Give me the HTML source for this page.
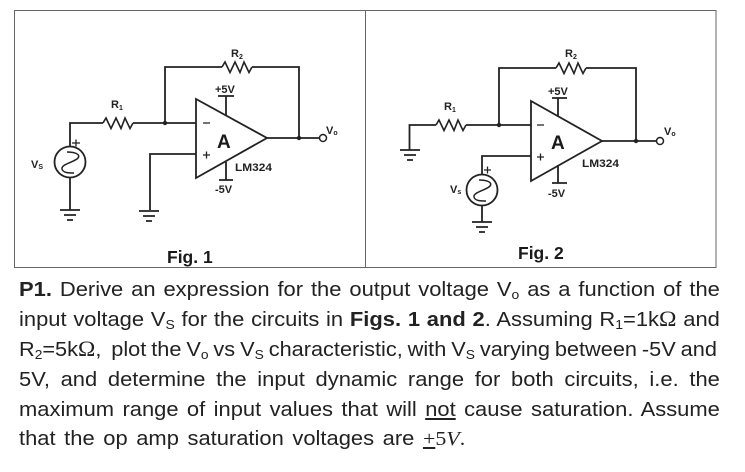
<!DOCTYPE html>
<html><head><meta charset="utf-8"><style>
html,body{margin:0;padding:0;background:#fff;width:745px;height:472px;overflow:hidden}
svg{display:block;position:absolute;left:0;top:0;filter:blur(.25px)}
text{font-family:"Liberation Sans",sans-serif;fill:#1a1a1a}
.l{font-weight:bold;font-size:11px;fill:#222}
.w{fill:none;stroke:#222;stroke-width:1.8}
.f{font-size:17.5px;font-weight:bold}
.p{position:absolute;left:19px;width:655px;height:30px;line-height:30px;font-family:"Liberation Sans",sans-serif;font-size:20.5px;color:#222;transform:scaleX(1.07);transform-origin:0 0;text-align:justify;text-align-last:justify;filter:blur(.2px)}
.p sub{font-size:13px;vertical-align:baseline;position:relative;top:3px;line-height:0}
.s{font-family:"Liberation Serif",serif}
.o{font-family:"Liberation Serif",serif;font-size:22px;line-height:0}
</style></head><body>
<svg width="745" height="472" viewBox="0 0 745 472" xmlns="http://www.w3.org/2000/svg">
<defs>
<g id="gnd"><path d="M-10 0H10M-6 5H6M-3 10H3" fill="none" stroke="#222" stroke-width="1.8"/></g>
<path id="res" d="M0 0L3-5 8 5.500 13-5 18 5.500 22-5 27 5.500 30 0" fill="none" stroke="#222" stroke-width="1.6"/>
<g id="src"><circle r="15.5" fill="#fff" stroke="#222" stroke-width="1.8"/><path d="M-3-10C4-10 11-8 8-4 5 0-9 2-8 7-7 11-1 11 4 11" fill="none" stroke="#222" stroke-width="1.500"/></g>
</defs>
<!-- frame -->
<path d="M14.5 10V268M14.5 10.5H716M365.5 10V268M14 267.5H716M716 10V268" fill="none" stroke="#666" stroke-width="1"/>

<!-- Fig 1 -->
<path class="w" d="M70 146V123H103M133 123H196M165 123V67H222M252 67H299V138M267 138H320M196 154H150V210M70 178V210M226 96V115M218 96H234M226 162V180M219 180H233"/>
<use href="#res" x="103" y="123"/><use href="#res" x="222" y="67"/>
<use href="#src" x="70" y="162"/>
<use href="#gnd" x="70" y="210"/><use href="#gnd" x="149" y="211"/>
<path class="w" d="M196 99V178L267 138Z"/>
<circle cx="165" cy="123" r="2.200" fill="#222"/><circle cx="299" cy="138" r="2.200" fill="#222"/>
<circle cx="323" cy="138" r="3.500" fill="#fff" stroke="#222" stroke-width="1.500"/>
<path class="w" d="M203 123H210M203 155H210M206.500 151.500V158.500M72 143H80M76 139.500V146.500" style="stroke-width:1.300"/>
<text x="217" y="148" style="font-size:19px;font-weight:bold">A</text>
<text class="l" x="111" y="108">R<tspan font-size="7" dy="2">1</tspan></text>
<text class="l" x="231" y="57">R<tspan font-size="7" dy="2">2</tspan></text>
<text class="l" x="215" y="93">+5V</text>
<text class="l" x="215" y="193">-5V</text>
<text class="l" x="235" y="171" textLength="37" lengthAdjust="spacingAndGlyphs">LM324</text>
<text class="l" x="31" y="168">V<tspan font-size="7" dy="1">S</tspan></text>
<text class="l" x="326" y="134">V<tspan font-size="7" dy="1">o</tspan></text>
<text class="f" x="167" y="263">Fig. 1</text>

<!-- Fig 2 -->
<path class="w" d="M409.500 150V125H436M466 125H531M499 125V68H556M586 68H636V141M602 141H657M531 156H482V174M482 206V222M558 98V116M552 98H567M558 165V183M552 183H567"/>
<use href="#res" x="436" y="125"/><use href="#res" x="556" y="68"/>
<use href="#src" x="482" y="190"/>
<use href="#gnd" x="410" y="150"/><use href="#gnd" x="482" y="222"/>
<path class="w" d="M531 101V181L602 141Z"/>
<circle cx="499" cy="125" r="2.200" fill="#222"/><circle cx="636" cy="141" r="2.200" fill="#222"/>
<circle cx="660" cy="141" r="3.500" fill="#fff" stroke="#222" stroke-width="1.500"/>
<path class="w" d="M537 125H544M537 157H544M540.500 153.500V160.500M484 170H491M487.500 166.500V173.500" style="stroke-width:1.300"/>
<text x="551" y="149" style="font-size:19px;font-weight:bold">A</text>
<text class="l" x="444" y="110">R<tspan font-size="7" dy="2">1</tspan></text>
<text class="l" x="565" y="57">R<tspan font-size="7" dy="2">2</tspan></text>
<text class="l" x="548" y="95">+5V</text>
<text class="l" x="548" y="197">-5V</text>
<text class="l" x="582" y="167" textLength="37" lengthAdjust="spacingAndGlyphs">LM324</text>
<text class="l" x="450" y="193">V<tspan font-size="7" dy="1">s</tspan></text>
<text class="l" x="664" y="135">V<tspan font-size="7" dy="1">o</tspan></text>
<text class="f" x="518" y="259">Fig. 2</text>
</svg>

<div class="p" style="top:275px"><b>P1.</b> Derive an expression for the output voltage V<sub>o</sub> as a function of the</div>
<div class="p" style="top:305px">input voltage V<sub>S</sub> for the circuits in <b>Figs. 1 and 2</b>. Assuming R<sub>1</sub>=1k<span class="o">Ω</span> and</div>
<div class="p" style="top:335px;width:661px;transform:scaleX(1.06);white-space:nowrap;word-spacing:-1.05px;text-align:left;text-align-last:left">R<sub>2</sub>=5k<span class="o">Ω</span>, &nbsp;plot the V<sub>o</sub> vs V<sub>S</sub> characteristic, with V<sub>S</sub> varying between -5V and</div>
<div class="p" style="top:365px">5V, and determine the input dynamic range for both circuits, i.e. the</div>
<div class="p" style="top:395px">maximum range of input values that will <u>not</u> cause saturation. Assume</div>
<div class="p" style="top:424px;width:417px">that the op amp saturation voltages are <span class="s"><u>+</u>5<i>V</i>.</span></div>
</body></html>
